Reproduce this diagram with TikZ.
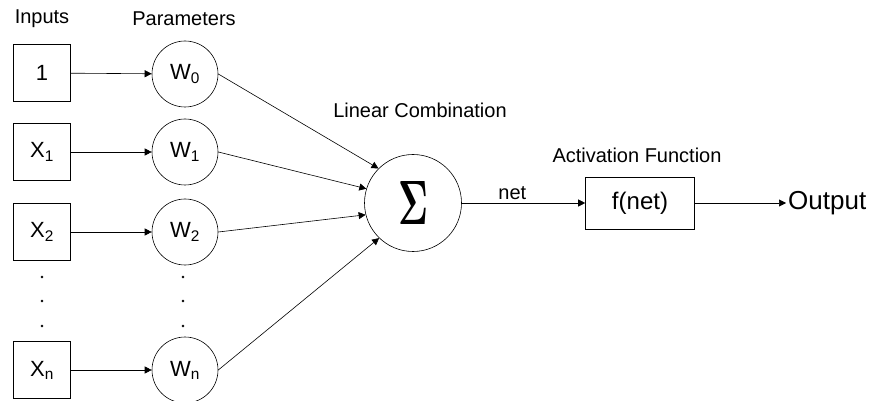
\documentclass[tikz,border=0pt]{standalone}
\usepackage{fontspec}
\usepackage{graphicx}
\setmainfont{Liberation Sans}
\usetikzlibrary{arrows.meta}

\tikzset{
    inbox/.style={draw, line width=0.6pt, minimum size=57pt, inner sep=0pt, font=\fontsize{22}{22}\selectfont},
    weight/.style={draw, line width=0.6pt, circle, minimum size=66pt, inner sep=0pt, font=\fontsize{22}{22}\selectfont},
    heading/.style={font=\fontsize{20}{20}\selectfont},
    conn/.style={line width=0.6pt, -{Triangle[length=7pt,width=7pt]}}
}

\begin{document}
\begin{tikzpicture}[x=1pt, y=-1pt]
    
        \useasboundingbox (0,0) rectangle (871,401);
        
        \node[heading] (inputs) at (42,19) {Inputs};
        \node[heading] (params) at (184,19) {Parameters};
        
        \node[inbox] (x0) at (42,73) {1};
        \node[inbox] (x1) at (42,152) {X\textsubscript{1}};
        \node[inbox] (x2) at (42,232) {X\textsubscript{2}};
        \node[inbox] (xn) at (42,370) {X\textsubscript{n}};
        
        \node[weight] (w0) at (185,74) {W\textsubscript{0}};
        \node[weight] (w1) at (185,152) {W\textsubscript{1}};
        \node[weight] (w2) at (185,232) {W\textsubscript{2}};
        \node[weight] (wn) at (185,370) {W\textsubscript{n}};
        
        \filldraw[black] (42,277) circle (1.2pt);
        \filldraw[black] (42,301) circle (1.2pt);
        \filldraw[black] (42,326) circle (1.2pt);
        \filldraw[black] (183,277) circle (1.2pt);
        \filldraw[black] (183,301) circle (1.2pt);
        \filldraw[black] (183,326) circle (1.2pt);
        
        \draw[conn] (x0) -- (w0);
        \draw[conn] (x1) -- (w1);
        \draw[conn] (x2) -- (w2);
        \draw[conn] (xn) -- (wn);
        
        \node[heading] (lincomb) at (420,110) {Linear Combination};
        \node[draw, line width=0.6pt, circle, minimum size=97pt, inner sep=0pt] (sum) at (413,203)
        {\raisebox{-1pt}{\resizebox{30pt}{43pt}{\boldmath$\Sigma$}}};
        
        \draw[conn] (w0.east) -- (sum.135);
        \draw[conn] (w1.east) -- (sum.163);
        \draw[conn] (w2.east) -- (sum.194);
        \draw[conn] (wn.east) -- (sum.226);
        
        \node[heading] (actfun) at (637,155) {Activation Function};
        \node[draw, line width=0.6pt, minimum width=109pt, minimum height=52pt, inner sep=0pt,
        font=\fontsize{24}{24}\selectfont] (fnet) at (640,203) {f(net)};
        
        \draw[conn] (sum) -- node[above, heading, pos=0.41, inner sep=3pt] {net} (fnet);
        
        \node[anchor=west, inner sep=2pt, font=\fontsize{26}{26}\selectfont] (output) at (786,203) {Output};
        \draw[conn] (fnet) -- (output);
        
    \end{tikzpicture}
\end{document}
